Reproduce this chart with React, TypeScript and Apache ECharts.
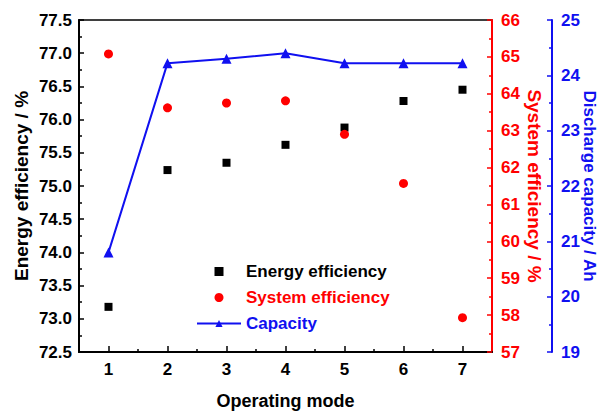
import React, { useEffect, useRef } from "react";
import * as echarts from "echarts";

const modes = [1, 2, 3, 4, 5, 6, 7];
const halfTicks = [1.5, 2.5, 3.5, 4.5, 5.5, 6.5];
const energyEff = [73.18, 75.24, 75.35, 75.62, 75.88, 76.28, 76.45];
const systemEff = [65.08, 63.62, 63.75, 63.81, 62.9, 61.57, 57.93];
const capacity = [20.8, 24.22, 24.3, 24.4, 24.22, 24.22, 24.22];

const FONT = "Liberation Sans, Arial, sans-serif";
const BLACK = "#000000";
const RED = "#ff0000";
const BLUE = "#1010f0";

export default function App() {
  const ref = useRef<HTMLDivElement>(null);
  useEffect(() => {
    if (!ref.current) return;
    const chart = echarts.init(ref.current, null, { renderer: "svg" });
    const pairs = (ys: number[]) => modes.map((m, i) => [m, ys[i]]);
    const labelStyle = (color: string) => ({
      color,
      fontSize: 17,
      fontWeight: "bold" as const,
      fontFamily: FONT,
    });
    chart.setOption({
      animation: false,
      backgroundColor: "#ffffff",
      grid: {
        left: 79,
        right: 108,
        top: 20,
        bottom: 62,
        outerBoundsMode: "none",
        containLabel: false,
        show: true,
        borderColor: BLACK,
        borderWidth: 1.5,
        backgroundColor: "transparent",
      },
      legend: {
        orient: "vertical",
        left: 191,
        top: 258,
        itemWidth: 44,
        itemHeight: 9,
        itemGap: 9,
        symbolKeepAspect: true,
        textStyle: { fontSize: 17, fontWeight: "bold", fontFamily: FONT },
        data: [
          {
            name: "Energy efficiency",
            icon: "path://M0,0h10v10h-10z",
            textStyle: { color: BLACK },
          },
          { name: "System efficiency", icon: "circle", textStyle: { color: RED } },
          { name: "Capacity", textStyle: { color: BLUE } },
        ],
      },
      xAxis: [
        {
          type: "value",
          min: 0.5,
          max: 7.5,
          interval: 0.5,
          position: "bottom",
          axisLine: { show: true, lineStyle: { color: BLACK, width: 2 } },
          axisTick: {
            show: true,
            inside: true,
            length: 6,
            customValues: modes,
            lineStyle: { color: BLACK, width: 1.5 },
          },
          axisLabel: { ...labelStyle(BLACK), margin: 9, customValues: modes },
          splitLine: { show: false },
          name: "Operating mode",
          nameLocation: "middle",
          nameGap: 40,
          nameMoveOverlap: false,
          nameTextStyle: { ...labelStyle(BLACK), fontSize: 18 },
        },
        {
          type: "value",
          min: 0.5,
          max: 7.5,
          interval: 0.5,
          position: "bottom",
          offset: 0,
          axisLine: { show: false },
          axisTick: {
            show: true,
            inside: true,
            length: 3,
            customValues: halfTicks,
            lineStyle: { color: BLACK, width: 1.5 },
          },
          axisLabel: { show: false },
          splitLine: { show: false },
        },
      ],
      yAxis: [
        {
          type: "value",
          position: "left",
          min: 72.5,
          max: 77.5,
          interval: 0.5,
          axisLine: { show: true, lineStyle: { color: BLACK, width: 2 } },
          axisTick: { show: true, inside: true, length: 5, lineStyle: { color: BLACK, width: 1.5 } },
          minorTick: { show: true, splitNumber: 2, length: 3, lineStyle: { color: BLACK, width: 1.5 } },
          axisLabel: {
            ...labelStyle(BLACK),
            margin: 7,
            formatter: (v: number) => v.toFixed(1),
          },
          splitLine: { show: false },
          name: "Energy efficiency / %",
          nameLocation: "middle",
          nameRotate: 90,
          nameGap: 48,
          nameMoveOverlap: false,
          nameTextStyle: { ...labelStyle(BLACK), fontSize: 19 },
        },
        {
          type: "value",
          position: "right",
          min: 57,
          max: 66,
          interval: 1,
          axisLine: { show: true, lineStyle: { color: RED, width: 2 } },
          axisTick: { show: true, inside: true, length: 5, lineStyle: { color: RED, width: 1.5 } },
          minorTick: { show: true, splitNumber: 2, length: 3, lineStyle: { color: RED, width: 1.5 } },
          axisLabel: { ...labelStyle(RED), margin: 9 },
          splitLine: { show: false },
          name: "System efficiency / %",
          nameLocation: "middle",
          nameRotate: -90,
          nameGap: 33,
          nameMoveOverlap: false,
          nameTextStyle: { ...labelStyle(RED), fontSize: 19 },
        },
        {
          type: "value",
          position: "right",
          offset: 60,
          min: 19,
          max: 25,
          interval: 1,
          axisLine: { show: true, lineStyle: { color: BLUE, width: 2 } },
          axisTick: { show: true, inside: true, length: 5, lineStyle: { color: BLUE, width: 1.5 } },
          minorTick: { show: true, splitNumber: 2, length: 3, lineStyle: { color: BLUE, width: 1.5 } },
          axisLabel: { ...labelStyle(BLUE), margin: 9 },
          splitLine: { show: false },
          name: "Discharge capacity / Ah",
          nameLocation: "middle",
          nameRotate: -90,
          nameGap: 29,
          nameMoveOverlap: false,
          nameTextStyle: { ...labelStyle(BLUE), fontSize: 17 },
        },
      ],
      series: [
        {
          name: "Energy efficiency",
          type: "scatter",
          xAxisIndex: 0,
          yAxisIndex: 0,
          symbol: "rect",
          symbolSize: 8,
          itemStyle: { color: BLACK, opacity: 1 },
          data: pairs(energyEff),
        },
        {
          name: "System efficiency",
          type: "scatter",
          xAxisIndex: 0,
          yAxisIndex: 1,
          symbol: "circle",
          symbolSize: 9,
          itemStyle: { color: RED, opacity: 1 },
          data: pairs(systemEff),
        },
        {
          name: "Capacity",
          type: "line",
          xAxisIndex: 0,
          yAxisIndex: 2,
          symbol: "triangle",
          symbolSize: 10,
          showSymbol: true,
          lineStyle: { color: BLUE, width: 2 },
          itemStyle: { color: BLUE, opacity: 1 },
          data: pairs(capacity),
        },
      ],
    });
    return () => chart.dispose();
  }, []);
  return (
    <div
      ref={ref}
      style={{ position: "absolute", left: 0, top: 0, width: 600, height: 414 }}
    />
  );
}
